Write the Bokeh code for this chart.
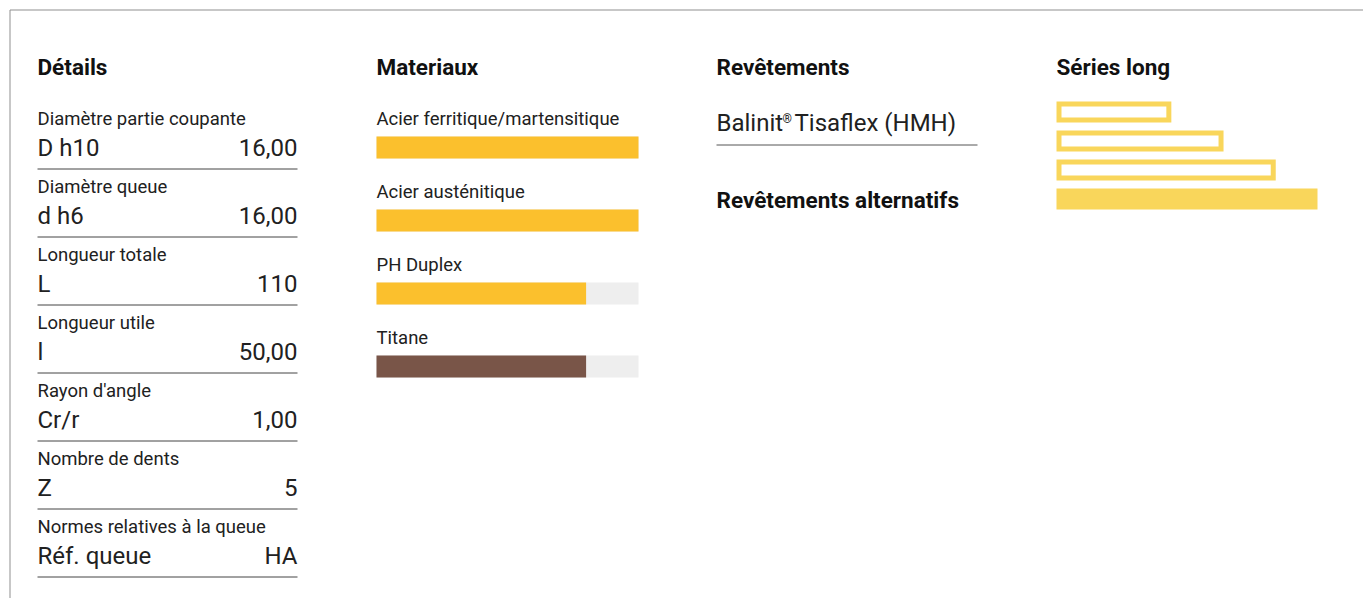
from bokeh.plotting import figure
from bokeh.models import Range1d, ColumnDataSource
from bokeh.core.properties import value
from bokeh.embed import file_html
from bokeh.resources import INLINE

# ---------------- data ----------------
section_titles = ["Détails", "Materiaux", "Revêtements", "Séries long"]
alt_title = "Revêtements alternatifs"

detail_labels = ["Diamètre partie coupante", "Diamètre queue", "Longueur totale",
                 "Longueur utile", "Rayon d'angle", "Nombre de dents",
                 "Normes relatives à la queue"]
detail_symbols = ["D h10", "d h6", "L", "l", "Cr/r", "Z", "Réf. queue"]
detail_values = ["16,00", "16,00", "110", "50,00", "1,00", "5", "HA"]

material_names = ["Acier ferritique/martensitique", "Acier austénitique",
                  "PH Duplex", "Titane"]
material_scores = [100, 100, 80, 80]
material_colors = ["#FBC02D", "#FBC02D", "#FBC02D", "#795548"]

coating_name = "Balinit"
coating_mark = "®"
coating_rest = "Tisaflex (HMH)"

series_lengths = [44, 64, 84, 100]
series_selected = [False, False, False, True]

# ---------------- layout (picture pixel coordinates) ----------------
W, H = 1363, 598
TITLE_FONT = "Roboto"
BODY_FONT = "Roboto"
TXT = "#212121"
TFS = 22.5

p = figure(width=W, height=H, output_backend="svg", toolbar_location=None,
           x_range=Range1d(0, W), y_range=Range1d(H, 0),
           min_border=0, min_border_left=0, min_border_right=0,
           min_border_top=0, min_border_bottom=0)
p.axis.visible = False
p.xgrid.visible = False
p.ygrid.visible = False
p.outline_line_color = None
p.background_fill_color = "white"
p.border_fill_color = "white"

# frame border (top + left)
p.segment(x0=[9.5, 9.5], y0=[9.5, 9.5], x1=[W, 9.5], y1=[9.5, H],
          line_color="#8f8f8f", line_width=1)

# value ranges mapped onto picture pixels through the library's scales
def value_range(px0, px100):
    span = 100.0 * W / (px100 - px0)
    start = -px0 / W * span
    return Range1d(start, start + span)

p.extra_x_ranges = {"mat": value_range(376, 638), "ser": value_range(1056, 1317)}


def base(y, fs):
    # place text so its alphabetic baseline lands on y
    return [v - 0.37 * fs for v in y]


# titles
col_x = [37, 376, 716, 1056]
p.text(x=col_x, y=base([75] * 4, TFS), text=section_titles, text_font=value(TITLE_FONT),
       text_font_size=f"{TFS}px", text_font_style="bold", text_color="#111111",
       text_baseline="alphabetic")
p.text(x=[716], y=base([208], TFS), text=[alt_title], text_font=value(TITLE_FONT),
       text_font_size=f"{TFS}px", text_font_style="bold", text_color="#111111",
       text_baseline="alphabetic")

# details
n = len(detail_labels)
lab_y = [125 + 68 * i for i in range(n)]
val_y = [156 + 68 * i for i in range(n)]
line_y = [168.5 + 68 * i for i in range(n)]
p.text(x=[37] * n, y=base(lab_y, 18.5), text=detail_labels, text_font=value(BODY_FONT),
       text_font_size="18.5px", text_color=TXT, text_baseline="alphabetic")
p.text(x=[37] * n, y=base(val_y, 24), text=detail_symbols, text_font=value(BODY_FONT),
       text_font_size="24px", text_color=TXT, text_baseline="alphabetic")
p.text(x=[297] * n, y=base(val_y, 24), text=detail_values, text_font=value(BODY_FONT),
       text_font_size="24px", text_color=TXT, text_baseline="alphabetic",
       text_align="right")
p.segment(x0=[37] * n, y0=line_y, x1=[297] * n, y1=line_y,
          line_color="#444444", line_width=1)

# materials
m = len(material_names)
mlab_y = [125 + 73 * i for i in range(m)]
mtop = [136 + 73 * i for i in range(m)]
mbot = [158 + 73 * i for i in range(m)]
p.text(x=[376] * m, y=base(mlab_y, 18.5), text=material_names, text_font=value(BODY_FONT),
       text_font_size="18.5px", text_color=TXT, text_baseline="alphabetic")
msrc = ColumnDataSource(dict(left=[0] * m, full=[100] * m, right=material_scores,
                             top=mtop, bottom=mbot, color=material_colors))
p.quad(left="left", right="full", top="top", bottom="bottom", source=msrc,
       fill_color="#EEEEEE", line_color=None, x_range_name="mat")
p.quad(left="left", right="right", top="top", bottom="bottom", source=msrc,
       fill_color="color", line_color=None, x_range_name="mat")

# coatings
p.text(x=[716], y=base([131], 24), text=[coating_name], text_font=value(BODY_FONT),
       text_font_size="24px", text_color=TXT, text_baseline="alphabetic")
p.text(x=[782], y=base([123], 12), text=[coating_mark], text_font=value(BODY_FONT),
       text_font_size="12px", text_color=TXT, text_baseline="alphabetic")
p.text(x=[794], y=base([131], 24), text=[coating_rest], text_font=value(BODY_FONT),
       text_font_size="24px", text_color=TXT, text_baseline="alphabetic")
p.segment(x0=[716], y0=[144.5], x1=[977], y1=[144.5], line_color="#555555",
          line_width=1)

# series bars
k = len(series_lengths)
inset = 2.5 * 100.0 / (1317 - 1056)
s_out = [i for i in range(k) if not series_selected[i]]
s_in = [i for i in range(k) if series_selected[i]]
stop = [101 + 29 * i for i in range(k)]
sbot = [122 + 29 * i for i in range(k)]
p.quad(left=[inset] * len(s_out), right=[series_lengths[i] - inset for i in s_out],
       top=[stop[i] + 2.5 for i in s_out], bottom=[sbot[i] - 2.5 for i in s_out],
       fill_color=None, line_color="#F9D65B", line_width=5, line_join="miter",
       x_range_name="ser")
p.quad(left=[0] * len(s_in), right=[series_lengths[i] for i in s_in],
       top=[stop[i] for i in s_in], bottom=[sbot[i] for i in s_in],
       fill_color="#F9D65B", line_color=None, x_range_name="ser")

open("out.html", "w").write(file_html(p, INLINE))
